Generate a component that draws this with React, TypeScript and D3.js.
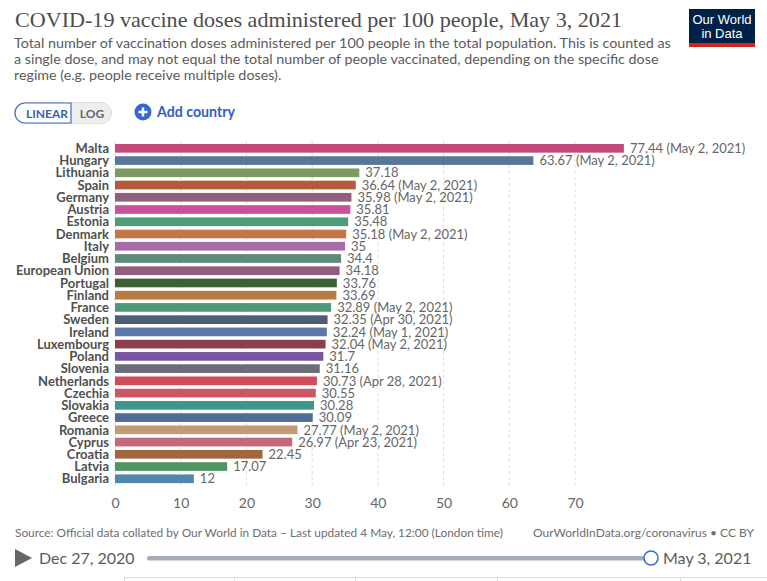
import React, { useEffect, useRef } from 'react';
import * as d3 from 'd3';

const countries = [
  'Malta', 'Hungary', 'Lithuania', 'Spain', 'Germany', 'Austria', 'Estonia',
  'Denmark', 'Italy', 'Belgium', 'European Union', 'Portugal', 'Finland',
  'France', 'Sweden', 'Ireland', 'Luxembourg', 'Poland', 'Slovenia',
  'Netherlands', 'Czechia', 'Slovakia', 'Greece', 'Romania', 'Cyprus',
  'Croatia', 'Latvia', 'Bulgaria',
];

const dosesPer100 = [
  77.44, 63.67, 37.18, 36.64, 35.98, 35.81, 35.48, 35.18, 35, 34.4, 34.18,
  33.76, 33.69, 32.89, 32.35, 32.24, 32.04, 31.7, 31.16, 30.73, 30.55, 30.28,
  30.09, 27.77, 26.97, 22.45, 17.07, 12,
];

// last reported date, only where it differs from the chart date
const reportedOn = [
  'May 2, 2021', 'May 2, 2021', '', 'May 2, 2021', 'May 2, 2021', '', '',
  'May 2, 2021', '', '', '', '', '', 'May 2, 2021', 'Apr 30, 2021',
  'May 1, 2021', 'May 2, 2021', '', '', 'Apr 28, 2021', '', '', '',
  'May 2, 2021', 'Apr 23, 2021', '', '', '',
];

const barColors = [
  '#c44a7c', '#58769a', '#7d9a63', '#b35a3c', '#8f5f7e', '#c9519a', '#509b79',
  '#c2764a', '#a66ca8', '#5c8b7c', '#915f7b', '#3e5e36', '#b97a43', '#4d9878',
  '#4e5c77', '#5a78aa', '#8d3f4b', '#78559f', '#6c6d78', '#d24c5c', '#cd5666',
  '#3f968a', '#4f6b96', '#c39c76', '#c26a7c', '#a2663f', '#4f9461', '#4f87ae',
];

const xTicks = [0, 10, 20, 30, 40, 50, 60, 70];

const subtitleLines = [
  'Total number of vaccination doses administered per 100 people in the total population. This is counted as',
  'a single dose, and may not equal the total number of people vaccinated, depending on the specific dose',
  'regime (e.g. people receive multiple doses).',
];

const WIDTH = 767;
const HEIGHT = 581;
const FONT = 'Lato, sans-serif';

const App: React.FC = () => {
  const ref = useRef<SVGSVGElement>(null);

  useEffect(() => {
    const svg = d3.select(ref.current);
    svg.selectAll('*').remove();

    svg.append('rect').attr('width', WIDTH).attr('height', HEIGHT).attr('fill', '#fff');

    // header
    svg
      .append('text')
      .attr('x', 15)
      .attr('y', 27)
      .attr('font-family', '"Liberation Serif", "DejaVu Serif", serif')
      .attr('font-size', 21)
      .attr('fill', '#4d4d4d')
      .attr('textLength', 607)
      .attr('lengthAdjust', 'spacingAndGlyphs')
      .text('COVID-19 vaccine doses administered per 100 people, May 3, 2021');

    svg
      .selectAll('text.subtitle')
      .data(subtitleLines)
      .enter()
      .append('text')
      .attr('class', 'subtitle')
      .attr('x', 14)
      .attr('y', (_, i) => 48 + i * 16)
      .attr('font-family', FONT)
      .attr('font-size', 14.3)
      .attr('fill', '#5b5b5b')
      .text((d) => d);

    // logo
    const logo = svg.append('g').attr('transform', 'translate(689,9)');
    logo.append('rect').attr('width', 66).attr('height', 38).attr('fill', '#002147');
    logo.append('rect').attr('y', 34).attr('width', 66).attr('height', 4).attr('fill', '#ce261e');
    logo
      .selectAll('text')
      .data(['Our World', 'in Data'])
      .enter()
      .append('text')
      .attr('x', 33)
      .attr('y', (_, i) => 15 + i * 14)
      .attr('text-anchor', 'middle')
      .attr('font-family', '"Liberation Sans", Arial, sans-serif')
      .attr('font-size', 13)
      .attr('fill', '#fff')
      .text((d) => d);

    // linear / log toggle
    const toggle = svg.append('g').attr('transform', 'translate(14,102)');
    toggle
      .append('rect')
      .attr('x', 0.5)
      .attr('y', 0.5)
      .attr('width', 97)
      .attr('height', 21)
      .attr('rx', 10.5)
      .attr('fill', '#eee')
      .attr('stroke', '#ddd');
    toggle
      .append('path')
      .attr('d', 'M57,1 H11 A10,10 0 0 0 11,21 H57 Z')
      .attr('fill', '#fff')
      .attr('stroke', '#3d6dcc')
      .attr('stroke-width', 1.2);
    toggle
      .append('text')
      .attr('x', 33)
      .attr('y', 15.5)
      .attr('text-anchor', 'middle')
      .attr('font-family', FONT)
      .attr('font-weight', 700)
      .attr('font-size', 12)
      .attr('fill', '#3d5fa8')
      .text('LINEAR');
    toggle
      .append('text')
      .attr('x', 78)
      .attr('y', 15.5)
      .attr('text-anchor', 'middle')
      .attr('font-family', FONT)
      .attr('font-weight', 700)
      .attr('font-size', 12)
      .attr('fill', '#666')
      .text('LOG');

    const add = svg.append('g').attr('transform', 'translate(143,112)');
    add.append('circle').attr('r', 8.5).attr('fill', '#3469d0');
    add
      .append('path')
      .attr('d', 'M-4.5,0 H4.5 M0,-4.5 V4.5')
      .attr('stroke', '#fff')
      .attr('stroke-width', 2.4);
    add
      .append('text')
      .attr('x', 14)
      .attr('y', 5)
      .attr('font-family', FONT)
      .attr('font-weight', 700)
      .attr('font-size', 14.2)
      .attr('fill', '#3360c0')
      .text('Add country');

    // bars
    const x = d3.scaleLinear().domain([0, 70]).range([115, 575]);
    const y = d3
      .scaleBand<string>()
      .domain(countries)
      .range([142.2, 484.9])
      .paddingInner(0.29)
      .paddingOuter(0.145);

    svg
      .append('g')
      .selectAll('line')
      .data(xTicks)
      .enter()
      .append('line')
      .attr('x1', (d) => x(d))
      .attr('x2', (d) => x(d))
      .attr('y1', 141)
      .attr('y2', 487)
      .attr('stroke', '#ddd')
      .attr('stroke-dasharray', '3,3');

    const rows = svg
      .append('g')
      .selectAll('g')
      .data(countries)
      .enter()
      .append('g')
      .attr('transform', (d) => `translate(0,${y(d)})`);

    rows
      .append('rect')
      .attr('x', x(0))
      .attr('width', (_, i) => x(dosesPer100[i]) - x(0))
      .attr('height', y.bandwidth())
      .attr('fill', (_, i) => barColors[i]);

    rows
      .append('text')
      .attr('x', 109)
      .attr('y', y.bandwidth() / 2)
      .attr('dy', '0.36em')
      .attr('text-anchor', 'end')
      .attr('font-family', FONT)
      .attr('font-weight', 700)
      .attr('font-size', 13)
      .attr('fill', '#4f4f4f')
      .text((d) => d);

    rows
      .append('text')
      .attr('x', (_, i) => x(dosesPer100[i]) + 6)
      .attr('y', y.bandwidth() / 2)
      .attr('dy', '0.36em')
      .attr('font-family', FONT)
      .attr('font-size', 13)
      .attr('fill', '#666')
      .text((_, i) => `${dosesPer100[i]}${reportedOn[i] ? ` (${reportedOn[i]})` : ''}`);

    const axis = svg
      .append('g')
      .attr('transform', 'translate(0,508)')
      .call(d3.axisBottom(x).tickValues(xTicks).tickSize(0).tickPadding(0));
    axis.select('.domain').remove();
    axis
      .selectAll('text')
      .attr('dy', 0)
      .attr('font-family', FONT)
      .attr('font-size', 14)
      .attr('fill', '#666');

    // footer
    svg
      .append('text')
      .attr('x', 15)
      .attr('y', 537)
      .attr('font-family', FONT)
      .attr('font-size', 12)
      .attr('fill', '#6e6e6e')
      .attr('textLength', 488)
      .attr('lengthAdjust', 'spacingAndGlyphs')
      .text('Source: Official data collated by Our World in Data – Last updated 4 May, 12:00 (London time)');
    svg
      .append('text')
      .attr('x', 754)
      .attr('y', 537)
      .attr('text-anchor', 'end')
      .attr('font-family', FONT)
      .attr('font-size', 12)
      .attr('fill', '#6e6e6e')
      .text('OurWorldInData.org/coronavirus • CC BY');

    // timeline
    svg.append('path').attr('d', 'M15,549 L32,558 L15,567 Z').attr('fill', '#666');
    svg
      .append('text')
      .attr('x', 39)
      .attr('y', 564)
      .attr('font-family', FONT)
      .attr('font-size', 16)
      .attr('fill', '#5b5b5b')
      .text('Dec 27, 2020');
    svg
      .append('rect')
      .attr('x', 147)
      .attr('y', 556)
      .attr('width', 498)
      .attr('height', 4.5)
      .attr('rx', 2)
      .attr('fill', '#a7adb5');
    svg
      .append('circle')
      .attr('cx', 651)
      .attr('cy', 558)
      .attr('r', 7)
      .attr('fill', '#fff')
      .attr('stroke', '#3d6dcc')
      .attr('stroke-width', 1.5);
    svg
      .append('text')
      .attr('x', 663)
      .attr('y', 564)
      .attr('font-family', FONT)
      .attr('font-size', 16)
      .attr('fill', '#5b5b5b')
      .text('May 3, 2021');

    // tab strip below the timeline
    svg
      .append('line')
      .attr('x1', 124)
      .attr('x2', WIDTH)
      .attr('y1', 577.5)
      .attr('y2', 577.5)
      .attr('stroke', '#ddd');
    svg
      .selectAll('line.tab')
      .data([124, 234, 355, 497, 680])
      .enter()
      .append('line')
      .attr('class', 'tab')
      .attr('x1', (d) => d + 0.5)
      .attr('x2', (d) => d + 0.5)
      .attr('y1', 577)
      .attr('y2', HEIGHT)
      .attr('stroke', '#ddd');
  }, []);

  return (
    <svg
      ref={ref}
      width={WIDTH}
      height={HEIGHT}
      style={{ position: 'absolute', left: 0, top: 0, display: 'block' }}
    />
  );
};

export default App;
